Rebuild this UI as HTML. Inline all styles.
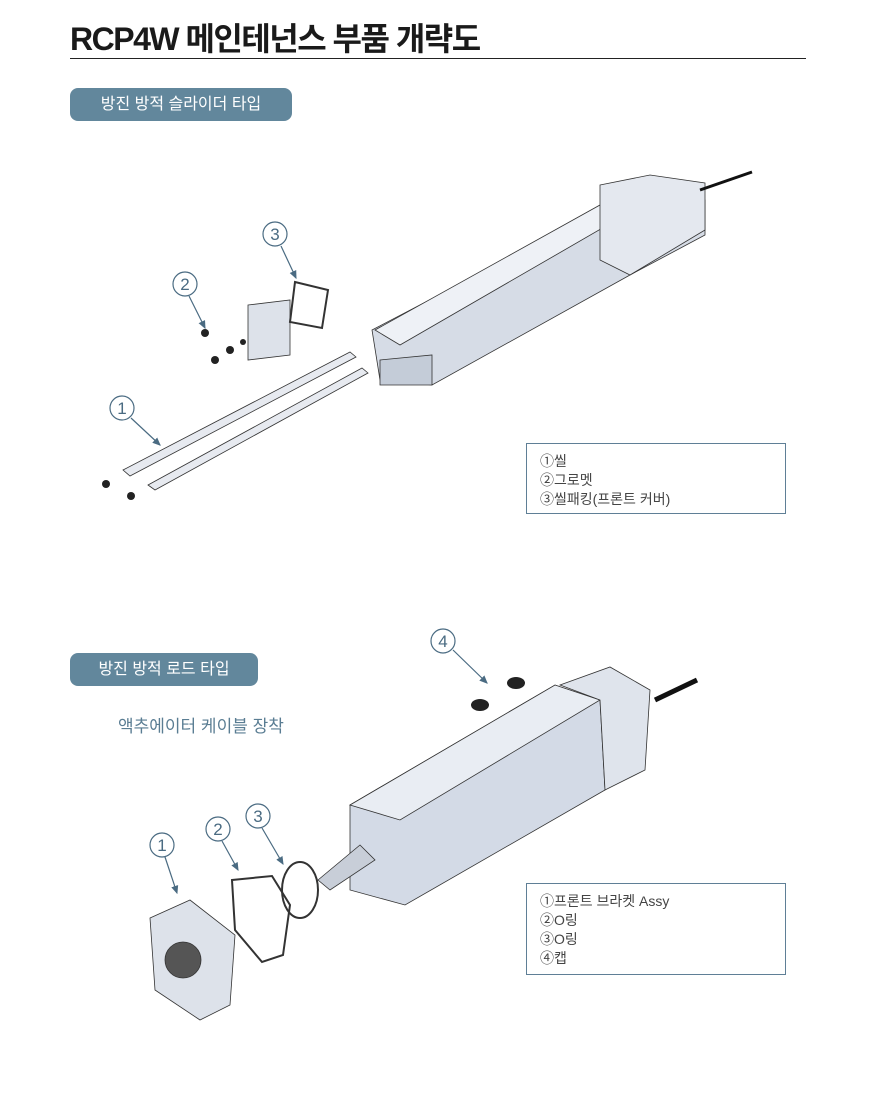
<!DOCTYPE html>
<html><head><meta charset="utf-8"><style>
body{margin:0;width:875px;height:1117px;background:#fff;position:relative;overflow:hidden;font-family:"Liberation Sans","Noto Sans CJK KR",sans-serif}
.t{position:absolute;left:70px;top:14px;font-size:32px;font-weight:bold;color:#1a1a1a;letter-spacing:-1.5px}
.hr{position:absolute;left:70px;top:58px;width:736px;height:1px;background:#222}
.pill{position:absolute;background:#62879c;color:#fff;border-radius:8px;font-size:16px;text-align:center;line-height:33px;height:33px}
.lg{position:absolute;border:1px solid #5f7f96;font-size:14px;color:#444;padding:8px 0 0 13px;box-sizing:border-box;line-height:19px}
svg{position:absolute;left:0;top:0}
</style></head><body>
<div class="t">RCP4W 메인테넌스 부품 개략도</div>
<div class="hr"></div>
<div class="pill" style="left:70px;top:88px;width:222px">방진 방적 슬라이더 타입</div>
<div class="pill" style="left:70px;top:653px;width:188px">방진 방적 로드 타입</div>
<div style="position:absolute;left:118px;top:712px;font-size:17px;color:#5a7d93">액추에이터 케이블 장착</div>
<div class="lg" style="left:526px;top:443px;width:260px;height:71px">①씰<br>②그로멧<br>③씰패킹(프론트 커버)</div>
<div class="lg" style="left:526px;top:883px;width:260px;height:92px">①프론트 브라켓 Assy<br>②O링<br>③O링<br>④캡</div>
<svg width="875" height="1117" viewBox="0 0 875 1117">
<defs><marker id="a" markerWidth="8" markerHeight="8" refX="6" refY="4" orient="auto"><path d="M0,1 L7,4 L0,7z" fill="#4a6b82"/></marker></defs>
<g stroke="#4a6b82" fill="none" stroke-width="1.2" font-size="18" font-family="Liberation Sans,sans-serif">
<circle cx="275" cy="234" r="12"/><circle cx="185" cy="284" r="12"/><circle cx="122" cy="408" r="12"/>
<circle cx="443" cy="641" r="12"/><circle cx="162" cy="845" r="12"/><circle cx="218" cy="829" r="12"/><circle cx="258" cy="816" r="12"/>
<path d="M281,246 L296,278" marker-end="url(#a)"/><path d="M189,296 L205,328" marker-end="url(#a)"/>
<path d="M131,418 L160,445" marker-end="url(#a)"/><path d="M453,650 L487,683" marker-end="url(#a)"/>
<path d="M165,857 L177,893" marker-end="url(#a)"/><path d="M222,841 L238,870" marker-end="url(#a)"/><path d="M262,828 L283,864" marker-end="url(#a)"/>
</g>
<g fill="#4a6b82" font-size="17" text-anchor="middle" font-family="Liberation Sans,sans-serif">
<text x="275" y="240">3</text><text x="185" y="290">2</text><text x="122" y="414">1</text><text x="443" y="647">4</text><text x="162" y="851">1</text><text x="218" y="835">2</text><text x="258" y="822">3</text>
</g>
<g stroke="#333" stroke-width="0.8">
<path d="M372,330 L640,190 L705,200 L705,235 L630,275 L432,385 L380,380z" fill="#d6dce6"/>
<path d="M375,330 L600,205 L625,215 L400,345z" fill="#eef1f6"/>
<path d="M600,185 L650,175 L705,183 L705,230 L630,275 L600,260z" fill="#e4e8ef"/>
<path d="M380,360 L432,355 L432,385 L380,385z" fill="#c4ccd8"/>
<path d="M248,305 L290,300 L290,355 L248,360z" fill="#dde2ea"/>
<path d="M295,282 L328,290 L322,328 L290,322z" fill="none" stroke-width="2"/>
<path d="M123,470 L350,352 L356,357 L130,476z" fill="#e7eaf0"/>
<path d="M148,485 L362,368 L368,373 L155,490z" fill="#e7eaf0"/>
<path d="M700,190 L752,172" fill="none" stroke="#111" stroke-width="3"/>
</g>
<g fill="#222"><circle cx="205" cy="333" r="4"/><circle cx="215" cy="360" r="4"/><circle cx="230" cy="350" r="4"/><circle cx="243" cy="342" r="3"/><circle cx="106" cy="484" r="4"/><circle cx="131" cy="496" r="4"/></g>
<g stroke="#333" stroke-width="0.8">
<path d="M350,805 L555,685 L600,700 L605,790 L405,905 L350,890z" fill="#d3dae6"/>
<path d="M350,805 L555,685 L600,700 L400,820z" fill="#e9edf3"/>
<path d="M560,685 L610,667 L650,690 L645,770 L605,790 L600,700z" fill="#dfe4ec"/>
<path d="M318,880 L360,845 L375,860 L330,890z" fill="#c8ced8"/>
<path d="M150,918 L190,900 L235,935 L230,1005 L200,1020 L155,990z" fill="#dde2ea"/>
<circle cx="183" cy="960" r="18" fill="#555"/>
<path d="M232,880 L272,876 L290,905 L283,955 L262,962 L235,930z" fill="none" stroke-width="2"/>
<ellipse cx="300" cy="890" rx="18" ry="28" fill="none" stroke-width="2"/>
<path d="M655,700 L697,680" fill="none" stroke="#111" stroke-width="5"/>
</g>
<g fill="#222"><ellipse cx="480" cy="705" rx="9" ry="6"/><ellipse cx="516" cy="683" rx="9" ry="6"/></g>
</svg>
</body></html>
